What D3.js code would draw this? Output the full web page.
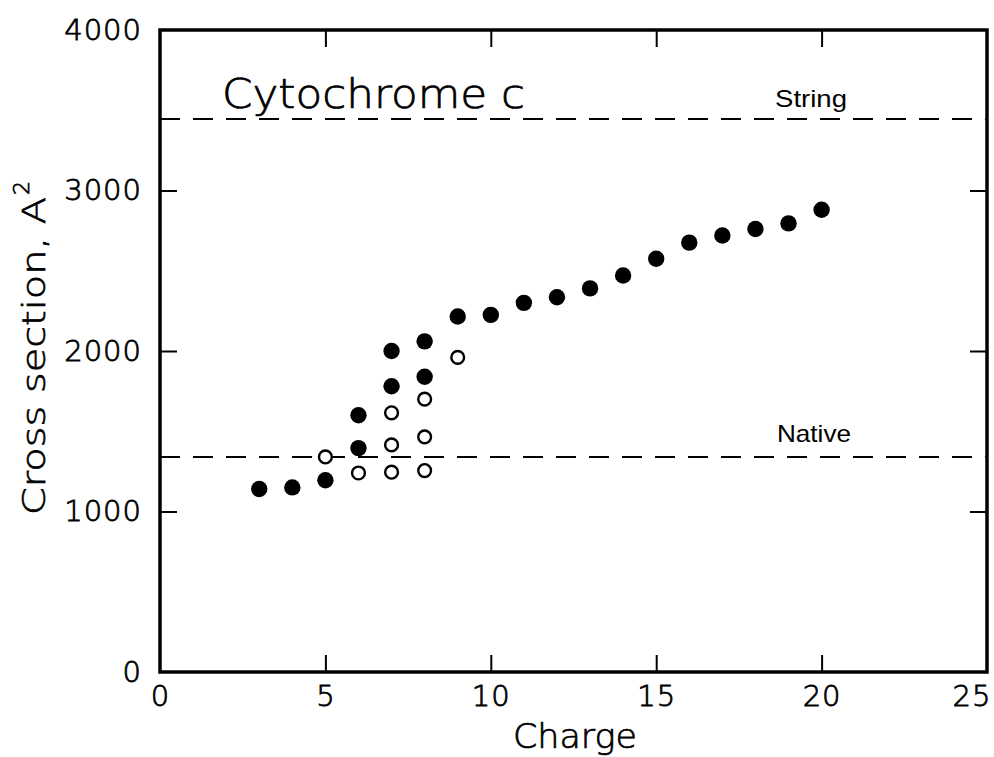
<!DOCTYPE html>
<html>
<head>
<meta charset="utf-8">
<script src="https://cdn.jsdelivr.net/npm/d3@7/dist/d3.min.js"></script>
<style>
  html, body { margin: 0; padding: 0; background: #fff; }
  svg { display: block; }
</style>
</head>
<body>
<svg id="chart" width="994" height="757"></svg>
<script>
// ---- data ----
const filledCharge = [3, 4, 5, 6, 6, 7, 7, 8, 8, 9, 10, 11, 12, 13, 14, 15, 16, 17, 18, 19, 20];
const filledCross  = [1140, 1150, 1195, 1395, 1600, 1780, 2000, 1840, 2060, 2215, 2225, 2300, 2335, 2390, 2470, 2575, 2675, 2720, 2760, 2795, 2880];
const openCharge = [5, 6, 7, 7, 7, 8, 8, 8, 9];
const openCross  = [1340, 1240, 1245, 1415, 1615, 1255, 1465, 1700, 1960];
const refNames  = ["String", "Native"];
const refValues = [3445, 1340];
const xTicks = [0, 5, 10, 15, 20, 25];
const yTicks = [0, 1000, 2000, 3000, 4000];
const title = "Cytochrome c";
const xLabel = "Charge";
const yLabel = "Cross section, A";

// ---- layout ----
const svg = d3.select("#chart");
const FONT = "'Liberation Sans', Arial, sans-serif";
const THIN = "'DejaVu Sans', 'Liberation Sans', sans-serif";
const x = d3.scaleLinear().domain([0, 25]).range([160, 987]);
const y = d3.scaleLinear().domain([0, 4000]).range([672, 30]);
const TICK = 17;

// reference dashed lines
refValues.forEach((v, i) => {
  svg.append("line")
    .attr("x1", x(0)).attr("x2", x(25))
    .attr("y1", y(v)).attr("y2", y(v))
    .attr("stroke", "#000").attr("stroke-width", 2)
    .attr("stroke-dasharray", "20,13");
});
svg.append("text").text(refNames[0])
  .attr("x", 775).attr("y", y(refValues[0]) - 12)
  .attr("font-family", FONT).attr("font-size", 24)
  .attr("textLength", 72).attr("lengthAdjust", "spacingAndGlyphs");
svg.append("text").text(refNames[1])
  .attr("x", 777).attr("y", y(refValues[1]) - 15)
  .attr("font-family", FONT).attr("font-size", 24)
  .attr("textLength", 74).attr("lengthAdjust", "spacingAndGlyphs");

// axes
function styleAxis(g, hideLabels) {
  g.select(".domain").remove();
  g.selectAll(".tick line").attr("stroke", "#000").attr("stroke-width", 2);
  g.selectAll(".tick text")
    .attr("font-family", THIN).attr("font-weight", 200).attr("font-size", 29).attr("fill", "#000")
    .attr("stroke", "#000").attr("stroke-width", 0.8)
    .attr("letter-spacing", 1);
  if (hideLabels) g.selectAll(".tick text").remove();
}
const innerX = xTicks.filter(t => t > 0 && t < 25);
const innerY = yTicks.filter(t => t > 0 && t < 4000);

const gx = svg.append("g").attr("transform", `translate(0,${y(0)})`)
  .call(d3.axisBottom(x).tickValues(xTicks).tickSize(-TICK).tickPadding(13).tickFormat(d3.format("d")));
styleAxis(gx, false);
gx.selectAll(".tick").filter(d => d === 0 || d === 25).select("line").remove();
gx.selectAll(".tick text").filter(d => d === 25).attr("text-anchor", "end").attr("dx", 4);

const gxTop = svg.append("g").attr("transform", `translate(0,${y(4000)})`)
  .call(d3.axisTop(x).tickValues(innerX).tickSize(-TICK));
styleAxis(gxTop, true);

const gy = svg.append("g").attr("transform", `translate(${x(0)},0)`)
  .call(d3.axisLeft(y).tickValues(yTicks).tickSize(-TICK).tickPadding(18).tickFormat(d3.format("d")));
styleAxis(gy, false);
gy.selectAll(".tick").filter(d => d === 0 || d === 4000).select("line").remove();

const gyR = svg.append("g").attr("transform", `translate(${x(25)},0)`)
  .call(d3.axisRight(y).tickValues(innerY).tickSize(-TICK));
styleAxis(gyR, true);

// frame
svg.append("rect")
  .attr("x", x(0)).attr("y", y(4000))
  .attr("width", x(25) - x(0)).attr("height", y(0) - y(4000))
  .attr("fill", "none").attr("stroke", "#000").attr("stroke-width", 3.5);

// points
svg.append("g").selectAll("circle")
  .data(openCharge.map((c, i) => [c, openCross[i]]))
  .join("circle")
  .attr("cx", d => x(d[0])).attr("cy", d => y(d[1]))
  .attr("r", 6.4).attr("fill", "#fff").attr("stroke", "#000").attr("stroke-width", 2.4);

svg.append("g").selectAll("circle")
  .data(filledCharge.map((c, i) => [c, filledCross[i]]))
  .join("circle")
  .attr("cx", d => x(d[0])).attr("cy", d => y(d[1]))
  .attr("r", 8.2).attr("fill", "#000");

// title
svg.append("text").text(title)
  .attr("x", 222).attr("y", 108)
  .attr("font-family", THIN).attr("font-weight", 200).attr("font-size", 40)
  .attr("stroke", "#000").attr("stroke-width", 0.7)
  .attr("textLength", 303).attr("lengthAdjust", "spacingAndGlyphs");

// axis titles
svg.append("text").text(xLabel)
  .attr("x", 575).attr("y", 748).attr("text-anchor", "middle")
  .attr("font-family", THIN).attr("font-weight", 200).attr("font-size", 34)
  .attr("stroke", "#000").attr("stroke-width", 0.7)
  .attr("textLength", 124).attr("lengthAdjust", "spacingAndGlyphs");

const yl = svg.append("text")
  .attr("transform", "translate(45,515) rotate(-90)")
  .attr("font-family", THIN).attr("font-weight", 200).attr("font-size", 32)
  .attr("stroke", "#000").attr("stroke-width", 0.7);
yl.append("tspan").text(yLabel)
  .attr("textLength", 318).attr("lengthAdjust", "spacingAndGlyphs");
yl.append("tspan").text("2").attr("dx", 2).attr("dy", -16).attr("font-size", 22);
</script>
</body>
</html>
